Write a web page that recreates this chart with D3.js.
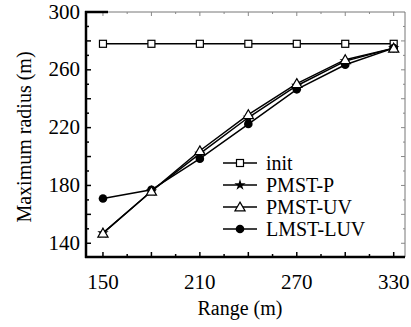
<!DOCTYPE html>
<html lang="en">
<head>
  <meta charset="UTF-8">
  <title>Maximum radius vs Range</title>
  <script src="https://d3js.org/d3.v7.min.js"></script>
  <style>
    body { margin: 0; background: #fff; }
    svg text { fill: #000; }
    .line { fill: none; stroke: #000; stroke-width: 1.5px; }
  </style>
</head>
<body>
  <div id="chart"></div>

  <script>
    // data
    const ranges = [150, 180, 210, 240, 270, 300, 330];
    const init = [278, 278, 278, 278, 278, 278, 278];
    const pmstP = [147, 176, 202, 227, 249, 266, 275];
    const pmstUV = [147, 176, 204, 229, 250.5, 267, 275];
    const lmstLUV = [171, 177, 198.5, 222.5, 246.5, 263.5, 275];
    const xTickLabels = [150, 210, 270, 330];
    const yTickLabels = [140, 180, 220, 260, 300];

    const series = [
      { name: "init", values: init, marker: "square" },
      { name: "PMST-P", values: pmstP, marker: "star" },
      { name: "PMST-UV", values: pmstUV, marker: "triangle" },
      { name: "LMST-LUV", values: lmstLUV, marker: "circle" }
    ];

    const width = 411, height = 327;
    const pLeft = 86, pRight = 405, pTop = 12, pBottom = 257;
    const serif = "Liberation Serif";

    const svg = d3.select("#chart").append("svg")
      .attr("width", width)
      .attr("height", height);

    const x = d3.scaleLinear().domain([139.5, 337]).range([pLeft, pRight]);
    const y = d3.scaleLinear().domain([130.5, 300]).range([pBottom, pTop]);

    // top / right frame, thin grey
    svg.append("line").attr("x1", pLeft).attr("x2", pRight).attr("y1", pTop).attr("y2", pTop)
      .attr("stroke", "#777").attr("stroke-width", 1);
    svg.append("line").attr("x1", pRight).attr("x2", pRight).attr("y1", pTop).attr("y2", pBottom)
      .attr("stroke", "#777").attr("stroke-width", 1);

    // ticks
    const xMinor = d3.range(150, 331, 15);
    xMinor.forEach(v => {
      const len = (v - 150) % 30 === 0 ? 5 : 3;
      svg.append("line").attr("x1", x(v)).attr("x2", x(v))
        .attr("y1", pBottom).attr("y2", pBottom - len)
        .attr("stroke", "#000").attr("stroke-width", 1.5);
      svg.append("line").attr("x1", x(v)).attr("x2", x(v))
        .attr("y1", pTop).attr("y2", pTop + len - 1)
        .attr("stroke", "#888").attr("stroke-width", 1);
    });
    const yMinor = d3.range(140, 300, 10);
    yMinor.forEach(v => {
      const len = v % 20 === 0 ? 5 : 3;
      svg.append("line").attr("x1", pLeft).attr("x2", pLeft + len)
        .attr("y1", y(v)).attr("y2", y(v))
        .attr("stroke", "#000").attr("stroke-width", 1.5);
      svg.append("line").attr("x1", pRight).attr("x2", pRight - len + 1)
        .attr("y1", y(v)).attr("y2", y(v))
        .attr("stroke", "#888").attr("stroke-width", 1);
    });

    // left and bottom axes, heavy
    svg.append("line").attr("x1", pLeft).attr("x2", pLeft).attr("y1", pTop - 1).attr("y2", pBottom + 1)
      .attr("stroke", "#000").attr("stroke-width", 2.5);
    svg.append("line").attr("x1", pLeft - 1).attr("x2", pRight).attr("y1", pBottom).attr("y2", pBottom)
      .attr("stroke", "#000").attr("stroke-width", 2.5);
    svg.append("line").attr("x1", pLeft - 1).attr("x2", pLeft + 22).attr("y1", pTop).attr("y2", pTop)
      .attr("stroke", "#000").attr("stroke-width", 2.5);

    // tick labels
    svg.selectAll(".xlab").data(xTickLabels).enter().append("text")
      .attr("x", d => x(d)).attr("y", 289)
      .attr("text-anchor", "middle").attr("font-size", 21)
      .attr("font-family", serif)
      .text(d => d);
    svg.selectAll(".ylab").data(yTickLabels).enter().append("text")
      .attr("x", 80).attr("y", d => y(d) + 6.5)
      .attr("text-anchor", "end").attr("font-size", 21)
      .attr("font-family", serif)
      .text(d => d);

    // axis titles
    svg.append("text").attr("x", 240).attr("y", 315)
      .attr("text-anchor", "middle").attr("font-size", 20)
      .attr("font-family", serif)
      .text("Range (m)");
    svg.append("text")
      .attr("transform", "translate(31,137) rotate(-90)")
      .attr("text-anchor", "middle").attr("font-size", 20)
      .attr("font-family", serif)
      .text("Maximum radius (m)");

    const line = d3.line().x(d => x(d[0])).y(d => y(d[1]));

    function drawMarker(g, type, cx, cy) {
      if (type === "square") {
        g.append("rect").attr("x", cx - 3.5).attr("y", cy - 3.5)
          .attr("width", 7).attr("height", 7)
          .attr("fill", "#fff").attr("stroke", "#000").attr("stroke-width", 1.2);
      } else if (type === "triangle") {
        g.append("path").attr("d", d3.symbol(d3.symbolTriangle, 45)())
          .attr("transform", `translate(${cx},${cy + 1})`)
          .attr("fill", "#fff").attr("stroke", "#000").attr("stroke-width", 1.2);
      } else if (type === "circle") {
        g.append("circle").attr("cx", cx).attr("cy", cy).attr("r", 4.3)
          .attr("fill", "#000");
      } else if (type === "star") {
        g.append("path").attr("d", d3.symbol(d3.symbolStar, 40)())
          .attr("transform", `translate(${cx},${cy})`)
          .attr("fill", "#000");
      }
    }

    // draw order: star under triangle so triangle shows on top
    const order = [0, 3, 1, 2];
    order.forEach(i => {
      const s = series[i];
      const pts = ranges.map((r, j) => [r, s.values[j]]);
      svg.append("path").datum(pts).attr("class", "line").attr("d", line);
    });
    order.forEach(i => {
      const s = series[i];
      const g = svg.append("g");
      ranges.forEach((r, j) => drawMarker(g, s.marker, x(r), y(s.values[j])));
    });

    // legend
    const legendY = [163, 185, 207, 229];
    series.forEach((s, i) => {
      const g = svg.append("g");
      g.append("line").attr("x1", 223).attr("x2", 257)
        .attr("y1", legendY[i]).attr("y2", legendY[i])
        .attr("stroke", "#000").attr("stroke-width", 1.5);
      drawMarker(g, s.marker, 240, legendY[i]);
      g.append("text").attr("x", 266).attr("y", legendY[i] + 7)
        .attr("font-size", 20).attr("font-family", serif).text(s.name);
    });
  </script>
</body>
</html>
